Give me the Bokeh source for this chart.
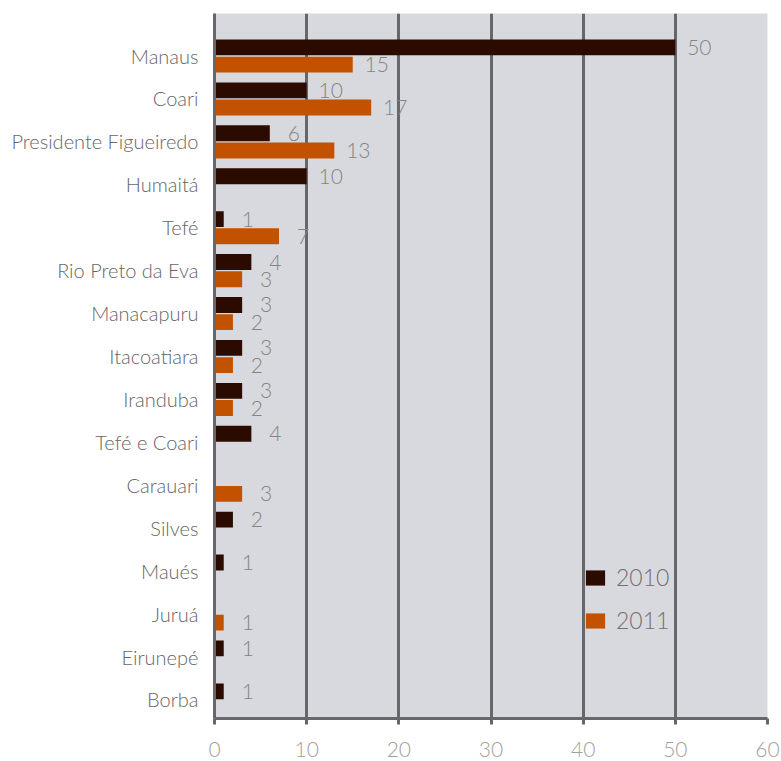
import numpy as np
from bokeh.plotting import figure
from bokeh.models import ColumnDataSource, FixedTicker, Range1d
from bokeh.transform import dodge
from bokeh.core.properties import value
from bokeh.embed import file_html
from bokeh.resources import INLINE

categories = ["Manaus", "Coari", "Presidente Figueiredo", "Humaitá", "Tefé",
              "Rio Preto da Eva", "Manacapuru", "Itacoatiara", "Iranduba",
              "Tefé e Coari", "Carauari", "Silves", "Maués", "Juruá",
              "Eirunepé", "Borba"]
v2010 = [50, 10, 6, 10, 1, 4, 3, 3, 3, 4, None, 2, 1, None, 1, 1]
v2011 = [15, 17, 13, None, 7, 3, 2, 2, 2, None, 3, None, None, 1, None, None]
series_names = ["2010", "2011"]
x_ticks = [0, 10, 20, 30, 40, 50, 60]

FONT = "Lato Light, Lato"
n = len(categories)
pos = {c: n - 1 - i for i, c in enumerate(categories)}

def make_source(vals):
    ys, xs, labels = [], [], []
    for c, v in zip(categories, vals):
        if v is None:
            continue
        ys.append(pos[c])
        xs.append(v)
        labels.append(str(v))
    return ColumnDataSource(dict(y=ys, v=xs, label=labels))

src10 = make_source(v2010)
src11 = make_source(v2011)

p = figure(width=781, height=761, output_backend="svg", toolbar_location=None,
           x_range=Range1d(0, 60), y_range=Range1d(-0.443, n - 1 + 0.98),
           min_border_left=214, min_border_right=14, min_border_top=13,
           min_border_bottom=43)
p.background_fill_color = "#d8d9de"
p.border_fill_color = "white"
p.outline_line_color = None

c10 = "#2b0b00"
c11 = "#c25200"
off10, off11 = 0.19, -0.21
bh = 0.37

p.hbar(y=dodge("y", off10), left=0, right="v", height=bh, source=src10,
       fill_color=c10, line_color=None, legend_label=series_names[0])
p.hbar(y=dodge("y", off11), left=0, right="v", height=bh, source=src11,
       fill_color=c11, line_color=None, legend_label=series_names[1])

for src, off in ((src10, off10), (src11, off11)):
    p.text(x="v", y=dodge("y", off), text="label", source=src, x_offset=24,
           text_align="center", text_baseline="middle",
           text_font=value(FONT), text_font_size="21px", text_color="#848484")

# grid
p.ygrid.visible = False
p.xgrid.grid_line_color = "#66666b"
p.xgrid.grid_line_width = 3
p.xgrid.ticker = FixedTicker(ticks=x_ticks)

# x axis
p.xaxis.ticker = FixedTicker(ticks=x_ticks)
p.xaxis.axis_line_color = "#66666b"
p.xaxis.axis_line_width = 3
p.xaxis.major_tick_line_color = "#66666b"
p.xaxis.major_tick_line_width = 3
p.xaxis.major_tick_out = 6
p.xaxis.major_tick_in = 0
p.xaxis.minor_tick_line_color = None
p.xaxis.major_label_standoff = 17
p.xaxis.major_label_text_font = FONT
p.xaxis.major_label_text_font_size = "21px"
p.xaxis.major_label_text_color = "#a0a0a0"

# y axis
p.yaxis.ticker = FixedTicker(ticks=list(range(n)))
p.yaxis.major_label_overrides = {pos[c]: c for c in categories}
p.yaxis.axis_line_color = "#66666b"
p.yaxis.axis_line_width = 3
p.yaxis.major_tick_line_color = None
p.yaxis.minor_tick_line_color = None
p.yaxis.major_tick_out = 0
p.yaxis.major_label_standoff = 16
p.yaxis.major_label_text_font = FONT
p.yaxis.major_label_text_font_size = "20px"
p.yaxis.major_label_text_color = "#666666"

# legend
lg = p.legend[0]
lg.location = (369, 84)
lg.background_fill_alpha = 0
lg.border_line_color = None
lg.padding = 0
lg.margin = 0
lg.spacing = 15
lg.glyph_width = 24
lg.glyph_height = 19
lg.label_height = 19
lg.label_standoff = 9
lg.label_text_font = FONT
lg.label_text_font_size = "23px"
lg.label_text_color = "#707070"
lg.label_text_baseline = "middle"

open("out.html", "w").write(file_html(p, INLINE))
